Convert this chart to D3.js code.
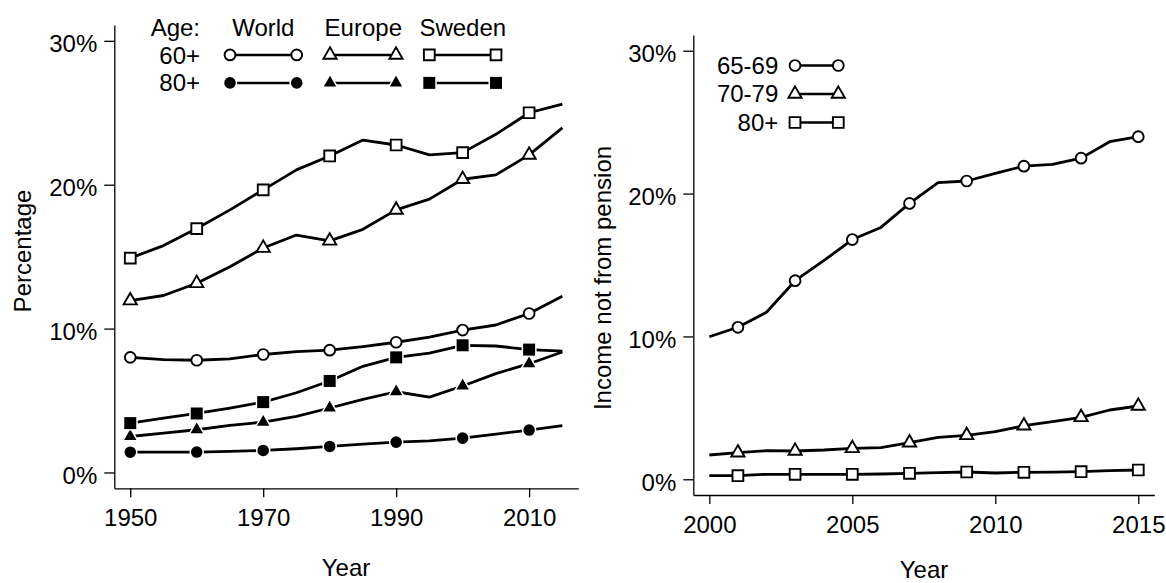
<!DOCTYPE html>
<html>
<head>
<meta charset="utf-8">
<script src="https://cdn.jsdelivr.net/npm/d3@7"></script>
<style>
  html, body { margin: 0; padding: 0; background: #fff; }
  svg { display: block; }
  text { font-family: "Liberation Sans", Arial, Helvetica, sans-serif; font-size: 24px; fill: #000; }
</style>
</head>
<body>
<svg id="chart" width="1166" height="583"></svg>
<script>
// ---------- Data ----------
const leftYears = [1950, 1955, 1960, 1965, 1970, 1975, 1980, 1985, 1990, 1995, 2000, 2005, 2010, 2015];
const world60  = [8.0, 7.85, 7.8, 7.9, 8.2, 8.4, 8.5, 8.75, 9.05, 9.4, 9.9, 10.25, 11.05, 12.25];
const world80  = [1.41, 1.41, 1.42, 1.46, 1.53, 1.65, 1.81, 1.97, 2.11, 2.2, 2.39, 2.67, 2.95, 3.25];
const europe60 = [11.95, 12.3, 13.15, 14.3, 15.6, 16.5, 16.1, 16.9, 18.25, 19.0, 20.38, 20.68, 22.07, 23.95];
const europe80 = [2.5, 2.74, 2.97, 3.27, 3.5, 3.9, 4.48, 5.08, 5.61, 5.24, 6.01, 6.87, 7.56, 8.37];
const sweden60 = [14.9, 15.77, 16.95, 18.25, 19.64, 21.03, 22.0, 23.1, 22.76, 22.07, 22.23, 23.5, 25.0, 25.6];
const sweden80 = [3.43, 3.78, 4.1, 4.48, 4.89, 5.54, 6.36, 7.38, 8.0, 8.3, 8.84, 8.79, 8.54, 8.44];

const rightYears = [2000, 2001, 2002, 2003, 2004, 2005, 2006, 2007, 2008, 2009, 2010, 2011, 2012, 2013, 2014, 2015];
const age6569 = [9.98, 10.64, 11.69, 13.9, 15.3, 16.78, 17.63, 19.31, 20.76, 20.88, 21.41, 21.92, 22.04, 22.48, 23.63, 23.98];
const age7079 = [1.7, 1.86, 2.0, 1.98, 2.05, 2.17, 2.21, 2.56, 2.94, 3.08, 3.33, 3.75, 4.03, 4.34, 4.85, 5.13];
const age80   = [0.25, 0.25, 0.35, 0.35, 0.35, 0.35, 0.37, 0.42, 0.47, 0.51, 0.44, 0.49, 0.5, 0.53, 0.6, 0.65];

const yTickValues = [0, 10, 20, 30];
const leftXTicks = [1950, 1970, 1990, 2010];
const rightXTicks = [2000, 2005, 2010, 2015];

const leftSeries = [
  { label: "World 60+",  values: world60,  shape: "circle",   filled: false },
  { label: "World 80+",  values: world80,  shape: "circle",   filled: true },
  { label: "Europe 60+", values: europe60, shape: "triangle", filled: false },
  { label: "Europe 80+", values: europe80, shape: "triangle", filled: true },
  { label: "Sweden 60+", values: sweden60, shape: "square",   filled: false },
  { label: "Sweden 80+", values: sweden80, shape: "square",   filled: true }
];
const rightSeries = [
  { label: "65-69", values: age6569, shape: "circle",   filled: false },
  { label: "70-79", values: age7079, shape: "triangle", filled: false },
  { label: "80+",   values: age80,   shape: "square",   filled: false }
];

// ---------- Helpers ----------
const svg = d3.select("#chart");

function shapePath(shape, filled) {
  if (shape === "circle") {
    const r = filled ? 5.8 : 5.4;
    return `M${r},0A${r},${r} 0 1,1 ${-r},0A${r},${r} 0 1,1 ${r},0Z`;
  }
  if (shape === "square") {
    const h = filled ? 6 : 5.4;
    return `M${-h},${-h}H${h}V${h}H${-h}Z`;
  }
  // triangle, centred on centroid
  const w = filled ? 6.2 : 6.6;
  const r = w / (Math.sqrt(3) / 2);
  return `M0,${-r}L${w},${r / 2}L${-w},${r / 2}Z`;
}

function drawMarker(g, shape, filled, x, y) {
  const p = g.append("path")
    .attr("d", shapePath(shape, filled))
    .attr("transform", `translate(${x},${y})`);
  if (filled) {
    p.attr("fill", "#000").attr("stroke", "#fff").attr("stroke-width", 3)
     .style("paint-order", "stroke");
  } else {
    p.attr("fill", "#fff").attr("stroke", "#000").attr("stroke-width", 1.9);
  }
}

function styleAxis(g) {
  g.selectAll("path.domain").attr("stroke", "#000").attr("stroke-width", 1.3);
  g.selectAll(".tick line").attr("stroke", "#000").attr("stroke-width", 1.3);
  g.selectAll("text")
    .style("font-family", '"Liberation Sans", Arial, Helvetica, sans-serif')
    .style("font-size", "24px").attr("fill", "#000");
}

function drawPanel(cfg) {
  const { x, y, years, series, xTicks, markerTest } = cfg;
  const g = svg.append("g");

  const ax = g.append("g")
    .attr("transform", `translate(0,${y.range()[0]})`)
    .call(d3.axisBottom(x).tickValues(xTicks).tickFormat(d3.format("d"))
      .tickSize(9).tickSizeOuter(0).tickPadding(12));
  styleAxis(ax);

  const ay = g.append("g")
    .attr("transform", `translate(${x.range()[0]},0)`)
    .call(d3.axisLeft(y).tickValues(yTickValues).tickFormat(d => d + "%")
      .tickSize(10).tickSizeOuter(0).tickPadding(7));
  styleAxis(ay);
  ay.selectAll(".tick text").attr("dy", "0.46em");

  const line = d3.line().x(d => x(d[0])).y(d => y(d[1]));
  series.forEach(s => {
    const pts = years.map((yr, i) => [yr, s.values[i]]);
    g.append("path").datum(pts)
      .attr("d", line).attr("fill", "none")
      .attr("stroke", "#000").attr("stroke-width", 2.8)
      .attr("stroke-linejoin", "round");
  });
  series.forEach(s => {
    years.forEach((yr, i) => {
      if (markerTest(yr)) drawMarker(g, s.shape, s.filled, x(yr), y(s.values[i]));
    });
  });
  return g;
}

// ---------- Left panel ----------
const xL = d3.scaleLinear().domain([1947.6, 2017.4]).range([114.3, 578.3]);
const yL = d3.scaleLinear().domain([-1.1, 31.1]).range([488.3, 25]);
drawPanel({ x: xL, y: yL, years: leftYears, series: leftSeries, xTicks: leftXTicks,
            markerTest: yr => yr % 10 === 0 });

svg.append("text").attr("transform", "translate(31,251) rotate(-90)")
  .attr("text-anchor", "middle").text("Percentage");
svg.append("text").attr("x", 346).attr("y", 576)
  .attr("text-anchor", "middle").text("Year");

// Left legend
const legL = svg.append("g");
legL.append("text").attr("x", 200).attr("y", 36).attr("text-anchor", "end").text("Age:");
legL.append("text").attr("x", 200).attr("y", 63.5).attr("text-anchor", "end").text("60+");
legL.append("text").attr("x", 200).attr("y", 91.3).attr("text-anchor", "end").text("80+");
const legCols = [
  { head: "World",  cx: 263.3, x1: 230,   x2: 296.7, shape: "circle" },
  { head: "Europe", cx: 363.3, x1: 330,   x2: 396,   shape: "triangle" },
  { head: "Sweden", cx: 462.8, x1: 429.3, x2: 496,   shape: "square" }
];
const legRows = [{ y: 54.9, filled: false }, { y: 82.9, filled: true }];
legCols.forEach(c => {
  legL.append("text").attr("x", c.cx).attr("y", 36).attr("text-anchor", "middle").text(c.head);
  legRows.forEach(r => {
    legL.append("line").attr("x1", c.x1).attr("x2", c.x2).attr("y1", r.y).attr("y2", r.y)
      .attr("stroke", "#000").attr("stroke-width", 2.5);
    drawMarker(legL, c.shape, r.filled, c.x1, r.y);
    drawMarker(legL, c.shape, r.filled, c.x2, r.y);
  });
});

// ---------- Right panel ----------
const xR = d3.scaleLinear().domain([1999.44, 2015.56]).range([693.3, 1154.3]);
const yR = d3.scaleLinear().domain([-1.1, 31.1]).range([495, 35]);
drawPanel({ x: xR, y: yR, years: rightYears, series: rightSeries, xTicks: rightXTicks,
            markerTest: yr => yr % 2 === 1 });

svg.append("text").attr("transform", "translate(611,278) rotate(-90)")
  .attr("text-anchor", "middle").text("Income not from pension");
svg.append("text").attr("x", 924).attr("y", 578)
  .attr("text-anchor", "middle").text("Year");

// Right legend
const legR = svg.append("g");
const rRows = [73.5, 102, 130.5];
rightSeries.forEach((s, i) => {
  const by = rRows[i];
  const cy = by - 8;
  legR.append("text").attr("x", 778.3).attr("y", by).attr("text-anchor", "end").text(s.label);
  legR.append("line").attr("x1", 795).attr("x2", 838.3).attr("y1", cy).attr("y2", cy)
    .attr("stroke", "#000").attr("stroke-width", 2.5);
  drawMarker(legR, s.shape, s.filled, 795, cy);
  drawMarker(legR, s.shape, s.filled, 838.3, cy);
});
</script>
</body>
</html>
